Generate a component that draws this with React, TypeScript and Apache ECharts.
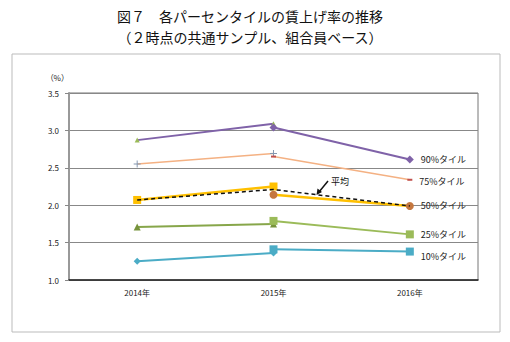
import React, { useEffect, useRef } from "react";
import * as echarts from "echarts";

const categories = ["2014年", "2015年", "2016年"];
const yTicks = [1.0, 1.5, 2.0, 2.5, 3.0, 3.5];

// two common-sample segments: A = 2014→2015, B = 2015→2016
const p90A = [2.87, 3.09, null];
const p90B = [null, 3.04, 2.61];
const p75A = [2.55, 2.69, null];
const p75B = [null, 2.65, 2.34];
const p50A = [2.07, 2.25, null];
const p50B = [null, 2.14, 1.99];
const avg = [2.07, 2.21, 1.99];
const p25A = [1.71, 1.75, null];
const p25B = [null, 1.79, 1.61];
const p10A = [1.25, 1.36, null];
const p10B = [null, 1.41, 1.38];

const labels = ["90%タイル", "75%タイル", "50%タイル", "25%タイル", "10%タイル"];
const titleLines = ["図７　各パーセンタイルの賃上げ率の推移", "（２時点の共通サンプル、組合員ベース）"];

const FONT = "'Noto Sans CJK JP', 'Noto Sans', sans-serif";

const toData = (arr: (number | null)[]) => arr.map((v) => (v === null ? "-" : v));

const withEndLabel = (arr: (number | null)[], text: string, offsetY = 0) =>
  arr.map((v, i) =>
    v === null
      ? "-"
      : i === arr.length - 1
      ? {
          value: v,
          label: {
            show: true,
            position: "right",
            distance: 7,
            offset: [0, offsetY],
            formatter: text,
            fontFamily: FONT,
            fontSize: 9,
            color: "#222",
          },
        }
      : v
  );

const PLUS = "path://M4.3,0H5.7V4.3H10V5.7H5.7V10H4.3V5.7H0V4.3H4.3Z";

export default function App() {
  const ref = useRef<HTMLDivElement>(null);
  useEffect(() => {
    document.body.style.margin = "0";
    const chart = echarts.init(ref.current!, null, { renderer: "svg" });
    const line = (
      name: string,
      data: any[],
      color: string,
      width: number,
      symbol: string,
      symbolSize: any,
      symbolColor: string,
      extra: any = {}
    ) => ({
      name,
      type: "line",
      data,
      connectNulls: false,
      symbol,
      symbolSize,
      showSymbol: true,
      lineStyle: { color, width },
      itemStyle: { color: symbolColor, borderWidth: 0 },
      ...extra,
    });
    chart.setOption({
      animation: false,
      backgroundColor: "#fff",
      grid: {
        left: 69,
        right: 32,
        top: 93,
        bottom: 62,
        show: true,
        borderColor: "#777",
        borderWidth: 1,
      },
      xAxis: {
        type: "category",
        data: categories,
        boundaryGap: true,
        axisLine: { lineStyle: { color: "#222", width: 1.5 } },
        axisTick: { show: false },
        axisLabel: { fontFamily: FONT, fontSize: 8, color: "#222", margin: 8 },
      },
      yAxis: {
        type: "value",
        min: 1.0,
        max: 3.5,
        interval: 0.5,
        name: "（%）",
        nameLocation: "end",
        nameGap: 12,
        nameTextStyle: { fontFamily: FONT, fontSize: 8, color: "#222", align: "right", padding: [0, 0, 0, 0] },
        axisLine: { show: true, lineStyle: { color: "#999", width: 2 } },
        axisTick: { show: true, length: 4, lineStyle: { color: "#888" } },
        axisLabel: {
          fontFamily: FONT,
          fontSize: 8,
          color: "#222",
          margin: 10,
          formatter: (v: number) => (yTicks.includes(v) ? v.toFixed(1) : ""),
        },
        splitLine: { lineStyle: { color: "#888", width: 1 } },
      },
      series: [
        line("90A", toData(p90A), "#7f62a8", 2, "triangle", 5, "#9bbb59"),
        line("90B", withEndLabel(p90B, labels[0]), "#7f62a8", 2, "diamond", 8, "#7f62a8"),
        line("75A", toData(p75A), "#f4b183", 1.5, PLUS, 7, "#8497b0"),
        line("75B", withEndLabel(p75B, labels[1], 2), "#f4b183", 1.5, "rect", [5, 2], "#c0504d"),
        line("50A", toData(p50A), "#ffc000", 2.5, "rect", 8, "#ffc000"),
        line("50B", withEndLabel(p50B, labels[2]), "#ffc000", 2.5, "circle", 8, "#c5773f"),
        line("平均", toData(avg), "#111", 1.5, "none", 0, "#111", {
          lineStyle: { color: "#111", width: 1.5, type: [4, 3] },
          z: 5,
        }),
        line("25A", toData(p25A), "#87a64a", 2, "triangle", 7, "#77933c"),
        line("25B", withEndLabel(p25B, labels[3]), "#9bbb59", 2, "rect", 8, "#9bbb59"),
        line("10A", toData(p10A), "#4bacc6", 2, "diamond", 7, "#4bacc6"),
        line("10B", withEndLabel(p10B, labels[4], 5), "#4bacc6", 2, "rect", 8, "#4bacc6"),
      ],
      graphic: [
        {
          type: "text",
          x: 250,
          y: 16,
          style: {
            text: titleLines[0],
            fontFamily: FONT,
            fontSize: 14,
            fill: "#111",
            align: "center",
            verticalAlign: "middle",
          },
        },
        {
          type: "text",
          x: 250,
          y: 37,
          style: {
            text: titleLines[1],
            fontFamily: FONT,
            fontSize: 14,
            fill: "#111",
            align: "center",
            verticalAlign: "middle",
          },
        },
        {
          type: "rect",
          shape: { x: 12, y: 54, width: 488, height: 278 },
          style: { fill: "none", stroke: "#bbb", lineWidth: 1 },
          z: -10,
          silent: true,
        },
        {
          type: "text",
          x: 331,
          y: 181,
          style: { text: "平均", fontFamily: FONT, fontSize: 9, fill: "#111", verticalAlign: "middle" },
        },
        {
          type: "line",
          shape: { x1: 328, y1: 181, x2: 319, y2: 192 },
          style: { stroke: "#111", lineWidth: 1.5 },
        },
        {
          type: "polygon",
          shape: { points: [[316.5, 195], [317.5, 188.5], [322, 192]] },
          style: { fill: "#111" },
        },
      ],
    });
    return () => chart.dispose();
  }, []);
  return <div ref={ref} style={{ width: 510, height: 342 }} />;
}
